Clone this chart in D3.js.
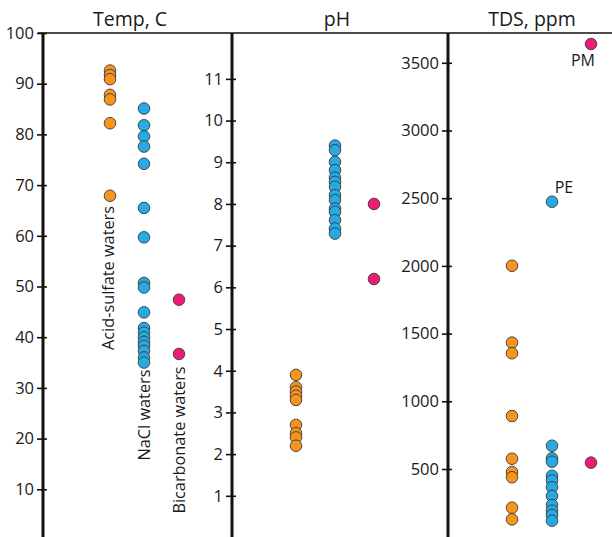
<!DOCTYPE html>
<html>
<head>
<meta charset="utf-8">
<script src="https://cdn.jsdelivr.net/npm/d3@7/dist/d3.min.js"></script>
<style>
  body { margin: 0; background: #fff; }
  svg text { font-family: "Open Sans", "Noto Sans", sans-serif; fill: #1a1a1a; }
</style>
</head>
<body>
<div id="chart"></div>
<script>
// water groups and their colours
const groups = ["acid", "nacl", "bicarb"];
const groupColors = ["#F7941D", "#27AAE1", "#EC1C74"];

// Temp, C
const tempAcid = [92.6, 91.7, 90.9, 87.8, 86.9, 82.2, 67.9];
const tempNaCl = [85.1, 81.8, 79.6, 77.6, 74.2, 65.5, 59.7, 50.7, 49.8, 44.9, 41.8, 40.9, 40.0, 39.1, 38.3, 37.3, 36.0, 35.0];
const tempBicarb = [47.4, 36.7];

// pH
const phAcid = [3.9, 3.6, 3.5, 3.4, 3.3, 2.7, 2.5, 2.4, 2.2];
const phNaCl = [9.4, 9.29, 9.01, 8.81, 8.63, 8.53, 8.41, 8.21, 8.09, 7.89, 7.81, 7.61, 7.41, 7.29];
const phBicarb = [8.0, 6.2];

// TDS, ppm
const tdsAcid = [2001, 1433, 1355, 891, 576, 478, 439, 214, 128];
const tdsNaCl = [2474, 672, 579, 554, 450, 414, 365, 301, 234, 192, 160, 118];
const tdsBicarb = [3639, 547];

const tempTicks = [10, 20, 30, 40, 50, 60, 70, 80, 90, 100];
const phTicks = [1, 2, 3, 4, 5, 6, 7, 8, 9, 10, 11];
const tdsTicks = [500, 1000, 1500, 2000, 2500, 3000, 3500];

const groupLabels = ["Acid-sulfate waters", "NaCl waters", "Bicarbonate waters"];
const pointLabels = [{ text: "PM", value: 3639 }, { text: "PE", value: 2474 }];

const width = 612, height = 537, topY = 33;

const svg = d3.select("#chart").append("svg")
  .attr("width", width)
  .attr("height", height);

// one panel per variable: axis position, scale, ticks, column positions
const panels = [
  { title: "Temp, C", axisX: 43, titleX: 130,
    y: d3.scaleLinear().domain([0, 100]).range([540, topY]),
    ticks: tempTicks, data: [tempAcid, tempNaCl, tempBicarb], cols: [110, 144, 179] },
  { title: "pH", axisX: 232, titleX: 337,
    y: d3.scaleLinear().domain([0, 12.1]).range([537.5, topY]),
    ticks: phTicks, data: [phAcid, phNaCl, phBicarb], cols: [296, 335, 374] },
  { title: "TDS, ppm", axisX: 448, titleX: 532,
    y: d3.scaleLinear().domain([0, 3720]).range([536.7, topY]),
    ticks: tdsTicks, data: [tdsAcid, tdsNaCl, tdsBicarb], cols: [512, 552, 591] }
];

// top frame line
svg.append("line")
  .attr("x1", 38).attr("x2", width)
  .attr("y1", topY).attr("y2", topY)
  .attr("stroke", "#111").attr("stroke-width", 1.6);

panels.forEach(p => {
  const g = svg.append("g").attr("transform", `translate(${p.axisX},0)`);
  g.call(d3.axisLeft(p.y).tickValues(p.ticks).tickFormat(d3.format("d")).tickSize(6).tickPadding(3));
  g.select(".domain").remove();
  g.selectAll(".tick line").attr("x1", 4).attr("stroke", "#111").attr("stroke-width", 1.6);
  g.selectAll(".tick text").style("font-size", "16.5px").attr("fill", "#1a1a1a");

  // thick vertical axis
  svg.append("line")
    .attr("x1", p.axisX).attr("x2", p.axisX)
    .attr("y1", topY).attr("y2", height)
    .attr("stroke", "#111").attr("stroke-width", 3);

  svg.append("text")
    .attr("x", p.titleX).attr("y", 26)
    .attr("text-anchor", "middle")
    .style("font-size", "19.5px")
    .text(p.title);

  p.data.forEach((vals, i) => {
    svg.append("g").selectAll("circle")
      .data(vals)
      .enter().append("circle")
      .attr("cx", p.cols[i])
      .attr("cy", d => p.y(d))
      .attr("r", 5.8)
      .attr("fill", groupColors[i])
      .attr("stroke", "#3a3a3a")
      .attr("stroke-width", 0.9);
  });
});

// rotated group labels in the Temp panel
const labelPos = [{ x: 114, y: 278 }, { x: 150, y: 415 }, { x: 185, y: 440 }];
groupLabels.forEach((t, i) => {
  svg.append("text")
    .attr("transform", `translate(${labelPos[i].x},${labelPos[i].y}) rotate(-90)`)
    .attr("text-anchor", "middle")
    .style("font-size", "16.3px")
    .text(t);
});

// point labels in the TDS panel
const tdsY = panels[2].y;
svg.append("text")
  .attr("x", 583).attr("y", tdsY(pointLabels[0].value) + 22)
  .attr("text-anchor", "middle").style("font-size", "16px")
  .text(pointLabels[0].text);
svg.append("text")
  .attr("x", 564).attr("y", tdsY(pointLabels[1].value) - 9)
  .attr("text-anchor", "middle").style("font-size", "16px")
  .text(pointLabels[1].text);
</script>
</body>
</html>
